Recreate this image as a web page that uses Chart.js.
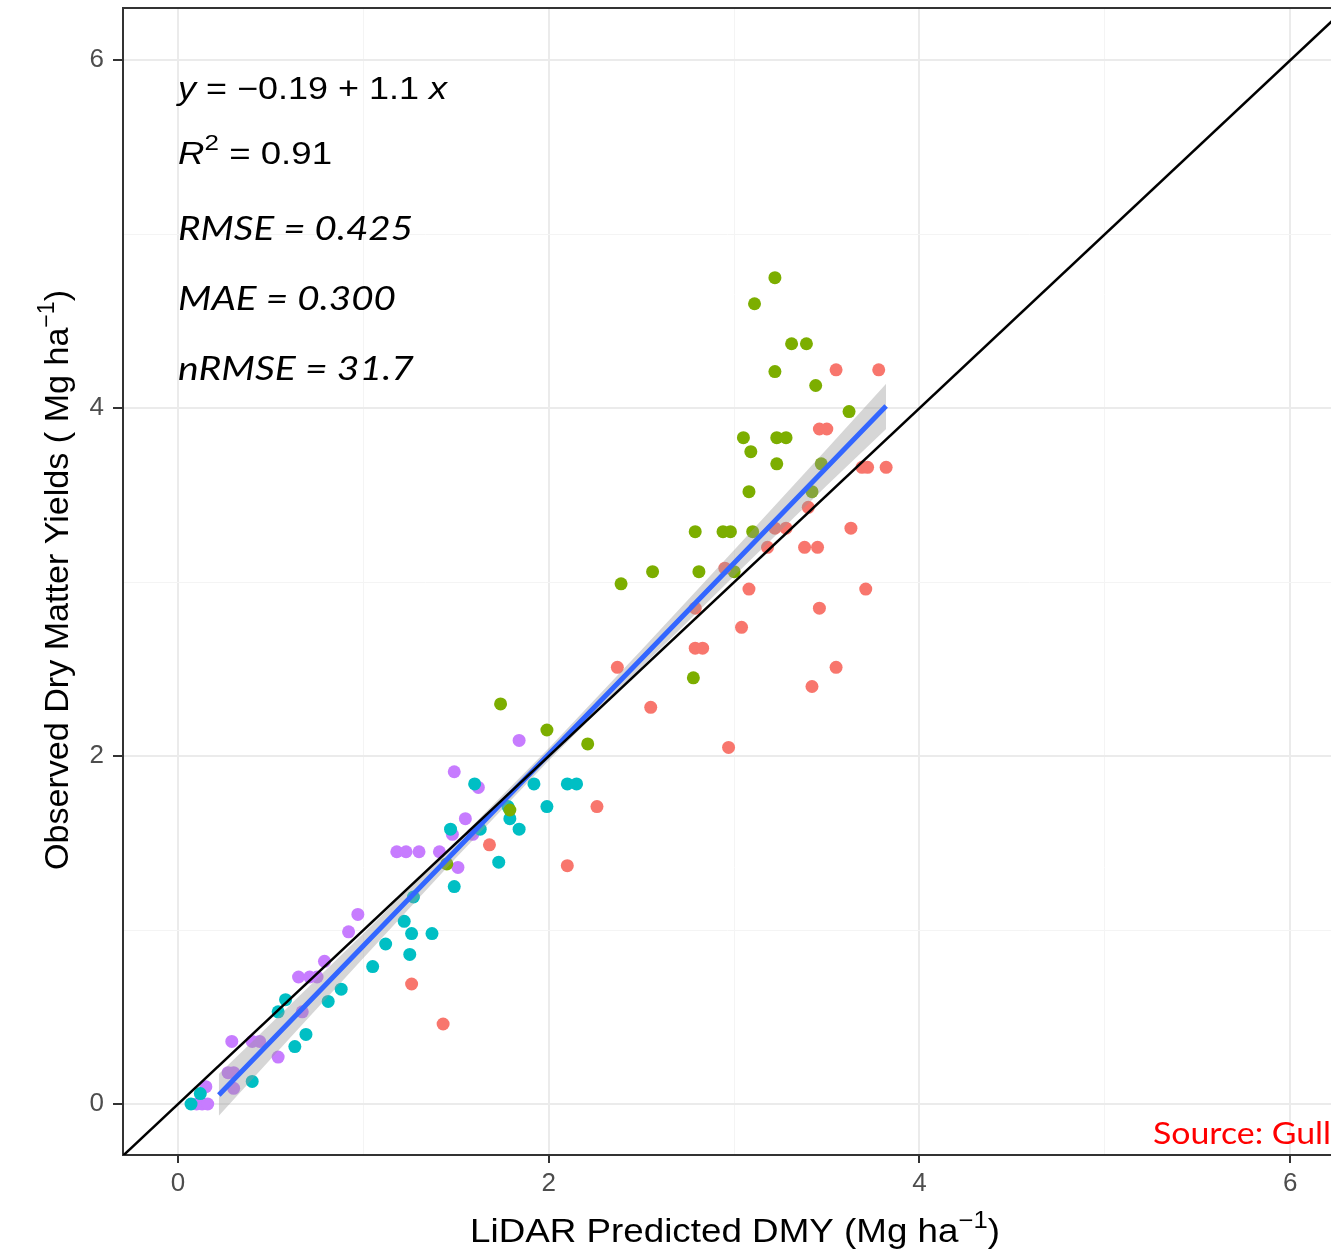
<!DOCTYPE html>
<html>
<head>
<meta charset="utf-8">
<script src="https://cdn.jsdelivr.net/npm/chart.js@4.4.1/dist/chart.umd.min.js"></script>
<style>
  html, body { margin: 0; padding: 0; background: #fff; }
</style>
</head>
<body>
<canvas id="dmy" width="1331" height="1251"></canvas>
<script>
// ================== Datos (predicho, observado) ==================
const PUNTOS_ROJO = [
  [1.43,0.46],[1.26,0.69],[1.68,1.49],[2.10,1.37],[2.26,1.71],[2.37,2.51],[2.55,2.28],
  [2.79,2.85],[2.79,2.62],[2.83,2.62],[2.97,2.05],[3.04,2.74],[3.08,2.96],[2.95,3.08],
  [3.18,3.20],[3.22,3.31],[3.28,3.31],[3.38,3.20],[3.45,3.20],[3.40,3.43],[3.46,2.85],
  [3.42,2.40],[3.55,2.51],[3.63,3.31],[3.71,2.96],[3.46,3.88],[3.50,3.88],[3.55,4.22],
  [3.78,4.22],[3.69,3.66],[3.72,3.66],[3.82,3.66]
];
const PUNTOS_VERDE = [
  [1.74,2.30],[1.99,2.15],[2.21,2.07],[1.79,1.69],[1.45,1.38],[2.39,2.99],[2.56,3.06],
  [2.81,3.06],[3.00,3.06],[2.79,3.29],[2.94,3.29],[2.98,3.29],[3.10,3.29],[2.78,2.45],
  [3.08,3.52],[3.42,3.52],[3.23,3.68],[3.47,3.68],[3.09,3.75],[3.05,3.83],[3.23,3.83],
  [3.28,3.83],[3.62,3.98],[3.44,4.13],[3.22,4.21],[3.31,4.37],[3.39,4.37],[3.11,4.60],
  [3.22,4.75]
];
const PUNTOS_CIAN = [
  [0.07,0.00],[0.12,0.06],[0.40,0.13],[0.63,0.33],[0.69,0.40],[0.54,0.53],[0.58,0.60],
  [0.81,0.59],[0.88,0.66],[1.05,0.79],[1.25,0.86],[1.12,0.92],[1.26,0.98],[1.37,0.98],
  [1.22,1.05],[1.27,1.19],[1.49,1.25],[1.73,1.39],[1.47,1.58],[1.63,1.58],[1.84,1.58],
  [1.79,1.64],[1.78,1.71],[1.99,1.71],[1.60,1.84],[1.92,1.84],[2.10,1.84],[2.15,1.84]
];
const PUNTOS_MORADO = [
  [0.10,0.00],[0.13,0.00],[0.16,0.00],[0.15,0.10],[0.30,0.09],[0.27,0.18],[0.30,0.18],
  [0.54,0.27],[0.29,0.36],[0.40,0.36],[0.44,0.36],[0.67,0.53],[0.65,0.73],[0.71,0.73],
  [0.75,0.73],[0.79,0.82],[0.92,0.99],[0.97,1.09],[1.18,1.45],[1.23,1.45],[1.30,1.45],
  [1.41,1.45],[1.51,1.36],[1.48,1.55],[1.59,1.55],[1.55,1.64],[1.62,1.82],[1.49,1.91],
  [1.84,2.09]
];

// Recta ajustada y = -0.19 + 1.1x y su banda de confianza
const AJUSTE_X  = [0.22, 0.6, 1.0, 1.5, 2.0, 2.5, 3.0, 3.5, 3.82];
const AJUSTE_Y  = [0.052, 0.47, 0.91, 1.46, 2.01, 2.56, 3.11, 3.66, 4.012];
const BANDA_INF = [-0.068, 0.375, 0.84, 1.415, 1.975, 2.51, 3.035, 3.555, 3.88];
const BANDA_SUP = [0.172, 0.565, 0.98, 1.505, 2.045, 2.61, 3.185, 3.765, 4.14];

// Línea 1:1
const LINEA_11 = [-0.3, 6.3];

// Ejes
const TICKS = [0, 1, 2, 3, 4, 5, 6];
const X_RANGO = [-0.297, 6.22];
const Y_RANGO = [-0.293, 6.30];

// Estadísticos escritos en el panel
const ECUACION = ["y", " = \u22120.19 + 1.1 ", "x"];
const R2 = "0.91";
const METRICAS = ["RMSE = 0.425", "MAE = 0.300", "nRMSE = 31.7"];
const FUENTE = "Source: Gull";

// ================== Util ==================
const aXY = arr => arr.map(([x, y]) => ({ x, y }));
const zipXY = (xs, ys) => xs.map((x, i) => ({ x, y: ys[i] }));
const esPar = v => Math.abs(v % 2) < 1e-9;

const SANS = "'Liberation Sans', Arial, sans-serif";
const CALI = "Lato, 'Open Sans', sans-serif";

function puntos(label, data, color, order) {
  return {
    label, data: aXY(data), order,
    backgroundColor: color, borderWidth: 0,
    pointRadius: 6.5, pointHoverRadius: 6.5
  };
}

// escribe trozos de texto seguidos (para cursivas y superíndices)
function trozos(ctx, x, y, partes) {
  partes.forEach(p => {
    ctx.font = p.font;
    ctx.fillText(p.t, x, y + (p.dy || 0));
    x += ctx.measureText(p.t).width;
  });
  return x;
}
function anchoTrozos(ctx, partes) {
  let w = 0;
  partes.forEach(p => { ctx.font = p.font; w += ctx.measureText(p.t).width; });
  return w;
}
// igual que trozos pero estirado en horizontal hasta "ancho"
function trozosAncho(ctx, x, y, partes, ancho) {
  const w = anchoTrozos(ctx, partes);
  ctx.save();
  ctx.translate(x, y);
  ctx.scale(ancho / w, 1);
  trozos(ctx, 0, 0, partes);
  ctx.restore();
}

// ================== Plugin: marco, títulos y textos ==================
const decoracion = {
  id: "decoracion",
  afterDraw(chart) {
    const { ctx, chartArea: a, scales } = chart;
    ctx.save();

    // borde superior del panel
    ctx.strokeStyle = "#333333";
    ctx.lineWidth = 2;
    ctx.beginPath();
    ctx.moveTo(a.left - 1, a.top);
    ctx.lineTo(a.right + 2, a.top);
    ctx.stroke();

    ctx.fillStyle = "#000";
    ctx.textBaseline = "alphabetic";
    ctx.textAlign = "left";

    // título eje X
    const tx = [
      { t: "LiDAR Predicted DMY (Mg ha", font: `33px ${SANS}` },
      { t: "\u22121", font: `23px ${SANS}`, dy: -14 },
      { t: ")", font: `33px ${SANS}` }
    ];
    trozosAncho(ctx, 470, 1242, tx, 530);

    // título eje Y (girado)
    const ty = [
      { t: "Observed Dry Matter Yields ( Mg ha", font: `34px ${SANS}` },
      { t: "\u22121", font: `23px ${SANS}`, dy: -14 },
      { t: ")", font: `34px ${SANS}` }
    ];
    ctx.save();
    ctx.translate(68, 870);
    ctx.rotate(-Math.PI / 2);
    trozosAncho(ctx, 0, 0, ty, 580);
    ctx.restore();

    // ecuación y estadísticos, anclados en x = 0
    const x0 = scales.x.getPixelForValue(0);
    const py = v => scales.y.getPixelForValue(v);
    trozosAncho(ctx, x0, py(5.776), [
      { t: ECUACION[0], font: `italic 31px ${SANS}` },
      { t: ECUACION[1], font: `31px ${SANS}` },
      { t: ECUACION[2], font: `italic 31px ${SANS}` }
    ], 269);
    trozosAncho(ctx, x0, py(5.402), [
      { t: "R", font: `italic 31px ${SANS}` },
      { t: "2", font: `22px ${SANS}`, dy: -14 },
      { t: " = " + R2, font: `31px ${SANS}` }
    ], 154);
    const ys = [4.966, 4.563, 4.161];
    const anchos = [235, 218, 236];
    METRICAS.forEach((m, i) =>
      trozosAncho(ctx, x0, py(ys[i]), [{ t: m, font: `italic 32px ${CALI}` }], anchos[i]));

    // fuente
    ctx.fillStyle = "#FF0000";
    trozosAncho(ctx, 1153, 1144, [{ t: FUENTE, font: `30px ${CALI}` }], 178);

    ctx.restore();
  }
};

// ================== Ejes ==================
function eje(rango) {
  return {
    type: "linear",
    min: rango[0],
    max: rango[1],
    afterBuildTicks: ax => { ax.ticks = TICKS.map(v => ({ value: v })); },
    grid: {
      color: c => (c.tick && esPar(c.tick.value)) ? "#EBEBEB" : "#F4F4F4",
      lineWidth: c => (c.tick && esPar(c.tick.value)) ? 2 : 1,
      tickColor: c => (c.tick && esPar(c.tick.value)) ? "#333333" : "rgba(0,0,0,0)",
      tickWidth: 2,
      drawTicks: true
    },
    border: { display: true, color: "#333333", width: 2 },
    ticks: {
      autoSkip: false,
      maxRotation: 0,
      color: "#4D4D4D",
      font: { family: SANS, size: 26 },
      callback: v => esPar(v) ? String(v) : ""
    }
  };
}

const ejeX = eje(X_RANGO);
ejeX.grid.tickLength = 8;
ejeX.ticks.padding = 5;
ejeX.afterFit = ax => {
  ax.height = 96;
  ax.paddingLeft = 0; ax.paddingRight = 0;
};

const ejeY = eje(Y_RANGO);
ejeY.grid.tickLength = 10;
ejeY.ticks.padding = 9;
ejeY.afterFit = ax => {
  ax.width = 123;
  ax.paddingTop = 0; ax.paddingBottom = 0;
};

// ================== Gráfica ==================
new Chart(document.getElementById("dmy"), {
  type: "scatter",
  data: {
    datasets: [
      {
        type: "line", label: "1:1", order: 0,
        data: zipXY(LINEA_11, LINEA_11),
        borderColor: "#000", borderWidth: 2.5, pointRadius: 0, fill: false
      },
      {
        type: "line", label: "ajuste", order: 1,
        data: zipXY(AJUSTE_X, AJUSTE_Y),
        borderColor: "#3366FF", borderWidth: 5, pointRadius: 0, fill: false,
        borderCapStyle: "butt"
      },
      {
        type: "line", label: "banda sup", order: 2,
        data: zipXY(AJUSTE_X, BANDA_SUP),
        borderWidth: 0, borderColor: "rgba(0,0,0,0)", pointRadius: 0,
        fill: "+1", backgroundColor: "rgba(153,153,153,0.4)"
      },
      {
        type: "line", label: "banda inf", order: 3,
        data: zipXY(AJUSTE_X, BANDA_INF),
        borderWidth: 0, borderColor: "rgba(0,0,0,0)", pointRadius: 0, fill: false
      },
      puntos("rojo", PUNTOS_ROJO, "#F8766D", 10),
      puntos("verde", PUNTOS_VERDE, "#7CAE00", 11),
      puntos("cian", PUNTOS_CIAN, "#00BFC4", 12),
      puntos("morado", PUNTOS_MORADO, "#C77CFF", 13)
    ]
  },
  options: {
    responsive: false,
    devicePixelRatio: 1,
    animation: false,
    layout: { autoPadding: false, padding: { top: 8, right: 0, left: 0, bottom: 0 } },
    plugins: { legend: { display: false }, tooltip: { enabled: false } },
    scales: { x: ejeX, y: ejeY }
  },
  plugins: [decoracion]
});
</script>
</body>
</html>
